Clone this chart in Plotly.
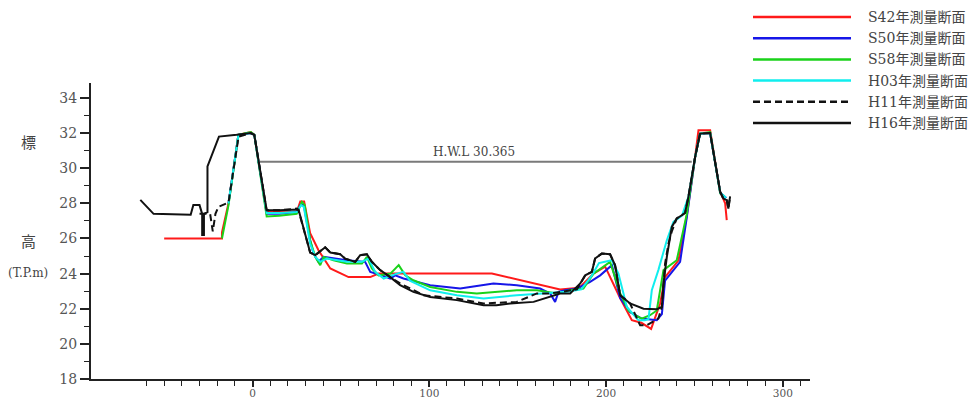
import plotly.graph_objects as go

# ---------------- data ----------------
series_names = ["S42年測量断面", "S50年測量断面", "S58年測量断面",
                "H03年測量断面", "H11年測量断面", "H16年測量断面"]

s42_x = [-50, -17.3, -17.3, -13.6, -8, -1, 1, 8, 15, 25, 27, 29.2, 32.6, 37.3, 44, 54.3, 66.6, 71.3, 100,
         135.4, 174, 185, 192.9, 199.5, 208, 214.6, 220, 225.5, 230.6, 233.4, 241, 245.7, 250.4, 252.3,
         258.9, 264.6, 265.5, 267.4, 268.3]
s42_y = [26.0, 26.0, 26.35, 28.0, 31.9, 32.05, 31.9, 27.5, 27.5, 27.5, 28.1, 28.1, 26.3, 25.33, 24.29, 23.8,
         23.8, 24.0, 24.0, 24.0, 23.1, 23.2, 24.0, 24.4, 22.6, 21.35, 21.2, 20.85, 22.3, 23.8, 24.76, 27.3,
         30.64, 32.16, 32.16, 28.6, 28.46, 28.0, 27.04]

s50_x = [-13.6, -8, -1, 1, 8, 15, 25, 27, 29, 32.6, 34.5, 37.3, 40.2, 53.4, 63.7, 66.6, 73.2, 77.9, 80.7,
         85.4, 100.5, 117.5, 123.1, 136.3, 149.5, 162.7, 168.4, 171.2, 173.1, 176.9, 183.5, 191, 196.7,
         203.3, 208, 213.6, 220.2, 228.7, 231.6, 233.4, 241.9, 245.7, 250.4, 253.2, 258.9, 264.6, 268]
s50_y = [28.0, 31.9, 32.0, 31.9, 27.4, 27.4, 27.5, 27.9, 27.9, 25.9, 25.14, 24.67, 24.95, 24.76, 24.67, 24.1,
         23.9, 23.72, 23.9, 23.72, 23.34, 23.15, 23.24, 23.44, 23.34, 23.15, 22.87, 22.39, 22.96, 23.05,
         23.15, 23.53, 23.9, 24.48, 22.6, 21.8, 21.44, 21.35, 21.7, 23.6, 24.67, 27.2, 30.64, 31.97, 32.0,
         28.6, 28.3]

s58_x = [-17.3, -13.6, -8, -1, 1, 8, 15, 25, 27.9, 29.5, 32.6, 35.5, 38.3, 40.2, 45.8, 53.4, 61.9, 64.7, 67.5,
         71.3, 78, 82.7, 86.4, 91, 100.5, 115.6, 126.9, 149.5, 160.9, 172.2, 179.7, 187.2, 192.9, 202.3,
         208, 212.7, 216.5, 220.2, 224.9, 228.7, 232.5, 240, 245.7, 250.4, 253.2, 258.9, 264.6, 267]
s58_y = [26.0, 27.9, 31.9, 32.05, 31.9, 27.25, 27.3, 27.4, 28.08, 27.9, 25.9, 24.95, 24.48, 24.95, 24.76,
         24.57, 24.57, 24.95, 24.29, 23.9, 24.0, 24.48, 23.9, 23.62, 23.24, 22.96, 22.87, 23.05, 23.05,
         22.87, 23.05, 23.15, 24.0, 24.67, 22.87, 21.9, 21.63, 21.44, 21.63, 21.9, 24.2, 24.76, 27.4,
         30.64, 31.97, 32.05, 28.56, 28.4]

h03_x = [-13.6, -8, -1, 1, 8, 15, 25, 27.5, 29, 32.6, 35.5, 38.3, 42.1, 53.4, 61.9, 65.6, 69.4, 74.2, 81.6,
         85.4, 89, 100.5, 115.6, 130.7, 149.5, 166.5, 178, 186, 192, 196, 203.3, 207, 211.8, 218.3, 222,
         224, 225.9, 229.6, 234.4, 238.1, 243, 246.6, 250.4, 253.2, 258.9, 264.6, 268]
h03_y = [28.0, 31.9, 32.0, 31.9, 27.45, 27.45, 27.5, 27.9, 27.8, 25.7, 24.95, 24.67, 24.86, 24.67, 24.67,
         24.86, 24.1, 23.72, 24.0, 24.1, 23.6, 23.05, 22.77, 22.58, 22.77, 22.87, 22.96, 23.1, 23.9, 24.6,
         24.76, 24.0, 22.1, 21.35, 21.35, 21.4, 23.05, 24.2, 25.9, 26.94, 27.3, 28.37, 30.64, 31.97, 32.0,
         28.6, 28.3]

h11_x = [-30, -24, -22.5, -21, -19.3, -13.6, -7.9, -1, 1, 8, 15, 25, 26, 32.6, 35.5, 41.1, 44, 49.6, 52.4,
         58.1, 60.9, 64.7, 67.5, 72.2, 77.9, 83.5, 96.8, 115.6, 130.7, 149.5, 160.9, 168.4, 174, 183.5,
         188.2, 192, 193.8, 197.6, 202.3, 205.1, 208, 213.6, 219.3, 223, 229.6, 231.6, 233.4, 235.3, 237.2,
         240, 242.9, 244.7, 246.6, 250.4, 253.2, 258.9, 264.6, 266.4, 268.3, 269.2, 270.2]
h11_y = [27.4, 27.4, 26.4, 27.4, 27.8, 28.05, 31.8, 32.0, 31.9, 27.6, 27.6, 27.7, 27.6, 25.2, 25.05, 25.5,
         25.2, 25.1, 24.85, 24.67, 25.05, 25.1, 24.67, 24.2, 23.8, 23.44, 22.77, 22.58, 22.3, 22.39, 22.87,
         22.87, 22.95, 23.1, 23.9, 24.1, 24.86, 25.14, 25.1, 24.48, 22.77, 22.3, 21.06, 21.06, 21.44, 22.1,
         24.57, 25.7, 26.4, 27.14, 27.32, 27.45, 28.37, 30.64, 31.97, 32.0, 28.65, 28.27, 28.18, 27.7, 28.4]

h16_x = [-63.5, -56, -35, -33.5, -30, -28.5, -28.5, -27.5, -27.5, -25.5, -25.5, -19, -9, -1, 1, 8, 15, 26,
         32.6, 35.5, 41.1, 44, 49.6, 52.4, 58.1, 60.9, 64.7, 67.5, 72.2, 77.9, 83.5, 91, 100.5, 115.6,
         130.7, 138, 145.8, 159, 174, 179.7, 185.4, 188.2, 192, 193.8, 197.6, 202.3, 205.1, 208, 213.6,
         221.2, 228.7, 231.6, 232.5, 234.4, 237.2, 240, 242.9, 244.7, 246.6, 250.4, 253.2, 258.9, 264.6,
         266.4, 268.3, 269.2, 270.2]
h16_y = [28.2, 27.4, 27.35, 27.9, 27.9, 27.4, 26.2, 26.2, 27.4, 27.5, 30.1, 31.8, 31.9, 32.0, 31.9, 27.6,
         27.6, 27.65, 25.2, 25.05, 25.5, 25.2, 25.1, 24.85, 24.67, 25.05, 25.1, 24.67, 24.2, 23.8, 23.34,
         22.96, 22.67, 22.49, 22.2, 22.2, 22.3, 22.39, 22.87, 22.87, 23.44, 23.9, 24.1, 24.86, 25.14, 25.1,
         24.48, 22.77, 22.3, 22.0, 21.97, 22.1, 23.44, 24.95, 26.66, 27.14, 27.32, 27.45, 28.37, 30.64,
         31.97, 32.0, 28.65, 28.27, 28.18, 27.7, 28.4]

hwl_level = 30.365
hwl_x = [2.5, 248.5]
hwl_label = "H.W.L 30.365"

x_major_ticks = [0, 100, 200, 300]
x_minor_ticks = list(range(-60, 311, 10))
y_major_ticks = [18, 20, 22, 24, 26, 28, 30, 32, 34]
y_minor_ticks = [19, 21, 23, 25, 27, 29, 31, 33]

# ---------------- styles ----------------
colors = ["#ff1a1a", "#1616e8", "#1ad21a", "#10eeee", "#111111", "#111111"]
dashes = ["solid", "solid", "solid", "solid", "7px,4px", "solid"]
xs = [s42_x, s50_x, s58_x, h03_x, h11_x, h16_x]
ys = [s42_y, s50_y, s58_y, h03_y, h11_y, h16_y]

# the page body adds an 8px offset; the figure is sized so the window shows 979x401
OFF = 8
W, H = 979 - OFF, 401 - OFF
ML, MR, MT, MB = 91 - OFF, 169, 83 - OFF, 22
PW, PH = W - ML - MR, H - MT - MB


def px_to_paper_x(px):
    return (px - OFF - ML) / PW


def px_to_paper_y(py):
    return (H - MB - (py - OFF)) / PH


serif = "DejaVu Serif, Noto Sans CJK JP, serif"

fig = go.Figure()
for name, x, y, c, d in zip(series_names, xs, ys, colors, dashes):
    fig.add_trace(go.Scatter(x=x, y=y, mode="lines", name=name,
                             line=dict(color=c, width=2, dash=d), showlegend=False))

shapes = [dict(type="line", xref="x", yref="y", x0=hwl_x[0], x1=hwl_x[1], y0=hwl_level, y1=hwl_level,
               line=dict(color="#7a7a7a", width=2), layer="below")]
annotations = [dict(x=(hwl_x[0] + hwl_x[1]) / 2, y=hwl_level, xref="x", yref="y", text=hwl_label,
                    showarrow=False, yanchor="bottom", yshift=1,
                    font=dict(family=serif, size=12, color="#444"))]

# manual legend (long line samples as in the reference)
row_y = [17, 38.2, 59.4, 80.6, 101.8, 123]
for name, c, d, ry in zip(series_names, colors, dashes, row_y):
    shapes.append(dict(type="line", xref="paper", yref="paper",
                       x0=px_to_paper_x(753), x1=px_to_paper_x(851),
                       y0=px_to_paper_y(ry), y1=px_to_paper_y(ry),
                       line=dict(color=c, width=2.5, dash=d)))
    annotations.append(dict(xref="paper", yref="paper", x=px_to_paper_x(866), y=px_to_paper_y(ry),
                            text=name, showarrow=False, xanchor="left", yanchor="middle",
                            font=dict(family=serif, size=14, color="#444")))

# y-axis title characters
for txt, py, sz in [("標", 143, 15), ("高", 242, 15), ("(T.P.m)", 273, 12)]:
    annotations.append(dict(xref="paper", yref="paper", x=px_to_paper_x(28), y=px_to_paper_y(py),
                            text=txt, showarrow=False, xanchor="center", yanchor="middle",
                            font=dict(family=serif, size=sz, color="#444")))

fig.update_layout(
    width=W, height=H,
    margin=dict(l=ML, r=MR, t=MT, b=MB, autoexpand=False),
    plot_bgcolor="white", paper_bgcolor="white",
    showlegend=False,
    shapes=shapes, annotations=annotations,
)

fig.update_xaxes(
    range=[-91.4, 315.4], showgrid=False, zeroline=False,
    showline=True, linecolor="#222", linewidth=2,
    tickmode="array", tickvals=x_major_ticks, ticks="outside", ticklen=6, tickwidth=1.5, tickcolor="#222",
    ticklabelstandoff=-3,
    tickfont=dict(family=serif, size=10.5, color="#555"),
    minor=dict(tickmode="array", tickvals=x_minor_ticks, ticks="outside", ticklen=5, tickwidth=1.2,
               tickcolor="#222", showgrid=False),
    automargin=False,
)
fig.update_yaxes(
    range=[18, 34.85], showgrid=False, zeroline=False,
    showline=True, linecolor="#222", linewidth=2,
    tickmode="array", tickvals=y_major_ticks, ticks="outside", ticklen=9, tickwidth=1.5, tickcolor="#222",
    tickfont=dict(family=serif, size=14, color="#555"),
    minor=dict(tickmode="array", tickvals=y_minor_ticks, ticks="outside", ticklen=5, tickwidth=1.2,
               tickcolor="#222", showgrid=False),
    automargin=False,
)

fig.write_html("out.html")
